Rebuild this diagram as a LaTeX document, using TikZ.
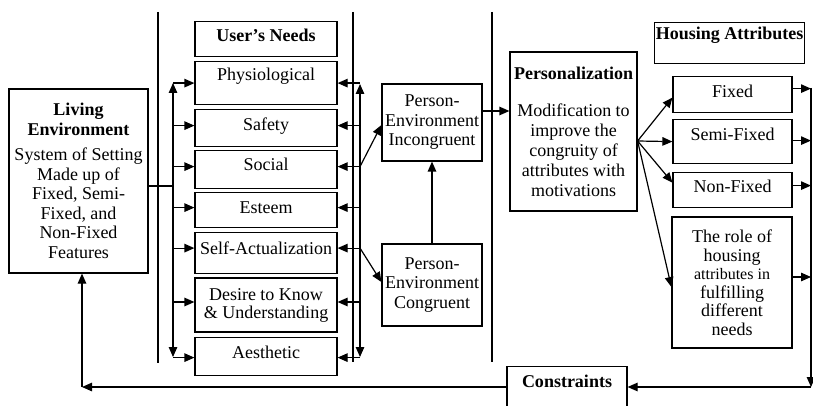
\documentclass[tikz,border=0pt]{standalone}
\usepackage{fontspec}
\setmainfont{Liberation Serif}
\usetikzlibrary{arrows.meta,calc}
\begin{document}
\begin{tikzpicture}[x=1pt,y=-1pt,
  every node/.style={font=\fontsize{18pt}{19.5pt}\selectfont},
  box/.style={draw, line width=1.2pt, inner xsep=1pt, align=center},
  one/.style n args={3}{box, anchor=north, inner ysep=0pt, text height=#1, text depth=#2, minimum width=#3},
  multi/.style n args={2}{box, minimum width=#1, minimum height=#2},
  conn/.style={line width=1.2pt, -{Triangle[length=10pt,width=8.5pt]}},
  biconn/.style={line width=1.2pt, {Triangle[length=10pt,width=8.5pt]}-{Triangle[length=10pt,width=8.5pt]}},
  plain/.style={line width=1.2pt},
  divider/.style={line width=1.3pt}]
\fill[white] (0,0) rectangle (813,406);
\useasboundingbox (0,0) rectangle (813,406);

% dividers
\coordinate (d1t) at (158,12); \coordinate (d1b) at (158,363);
\coordinate (d2t) at (353,12); \coordinate (d2b) at (353,362);
\coordinate (d3t) at (492,12); \coordinate (d3b) at (492,362);
\draw[divider] (d1t) -- (d1b);
\draw[divider] (d2t) -- (d2b);
\draw[divider] (d3t) -- (d3b);

% living environment
\node[multi={139pt}{184pt}] (le) at (78.5,181) {\textbf{Living}\\\textbf{Environment}\\[6pt]System of Setting\\Made up of\\Fixed, Semi-\\Fixed, and\\Non-Fixed\\Features};

% user's needs column
\node[one={20pt}{15pt}{142pt}] (un) at (266,21) {\textbf{User's Needs}};
\node[one={19pt}{24pt}{142pt}] (phy) at (266,61) {Physiological};
\node[one={21pt}{16pt}{142pt}] (saf) at (266,109) {Safety};
\node[one={20pt}{18pt}{142pt}] (soc) at (266,150) {Social};
\node[one={21pt}{14pt}{142pt}] (est) at (266,192) {Esteem};
\node[one={22pt}{19pt}{142pt}] (sel) at (266,232) {Self-Actualization};
\node[multi={142pt}{54pt}, font=\fontsize{18pt}{18pt}\selectfont] (des) at (266,305) {Desire to Know\\\& Understanding};
\node[one={21pt}{17pt}{142pt}] (aes) at (266,337) {Aesthetic};

% person-environment
\node[multi={100pt}{77pt}] (inc) at (432,122.5) {Person-\\Environment\\Incongruent};
\node[multi={100pt}{82pt}] (cong) at (432,285) {Person-\\Environment\\Congruent};

% personalization
\node[multi={127pt}{159pt}, font=\fontsize{18pt}{20pt}\selectfont] (pers) at (573.5,131.5) {\textbf{Personalization}\\[17pt]Modification to\\improve the\\congruity of\\attributes with\\motivations};

% housing attributes
\node[one={17pt}{24pt}{149pt}] (ha) at (729.5,22) {\textbf{Housing Attributes}};
\node[one={21pt}{15pt}{119pt}] (fix) at (732.5,76) {Fixed};
\node[one={21pt}{23pt}{119pt}] (semi) at (732.5,119) {Semi-Fixed};
\node[one={20pt}{15pt}{119pt}] (non) at (732.5,172) {Non-Fixed};
\node[multi={120pt}{131pt}, font=\fontsize{18pt}{18.5pt}\selectfont] (role) at (732,282.5) {The role of\\housing\\{\fontsize{16pt}{18.5pt}\selectfont attributes in}\\fulfilling\\different\\needs};

% constraints
\node[one={21pt}{33pt}{120pt}] (cons) at (567,366) {\textbf{Constraints}};

% left bus
\coordinate (bLt) at (173,83); \coordinate (bLb) at (173,357);
\draw[biconn] (bLt) -- (bLb);
\coordinate (leout) at ([yshift=-5pt]le.east);
\draw[plain] (leout) -- (leout -| bLt);

% right bus
\coordinate (bRt) at (360,84); \coordinate (bRb) at (360,357);
\draw[biconn] (bRt) -- (bRb);

\foreach \n/\s in {phy/0,saf/2.5,soc/3,est/2.5,sel/5,des/3,aes/-1}{
  \coordinate (\n L) at ([yshift=\s pt]\n.west);
  \coordinate (\n R) at ([yshift=\s pt]\n.east);
  \draw[conn] (\n L -| bLt) -- (\n L);
  \draw[conn] (\n R -| bRt) -- (\n R);
}

% to person-environment boxes
\coordinate (incin) at ([yshift=-2.5pt]inc.west);
\coordinate (congin) at ([yshift=3pt]cong.west);
\draw[conn] (socR -| bRt) -- (incin);
\draw[conn] (selR -| bRt) -- (congin);
\draw[conn] (cong.north) -- (inc.south);
\coordinate (incout) at ([yshift=11.5pt]inc.east);
\draw[conn] (incout) -- (incout -| pers.west);

% personalization to housing attributes
\coordinate (po) at ([yshift=-9.5pt]pers.east);
\draw[conn] (po) -- ([yshift=-3pt]fix.west);
\draw[conn] (po) -- (semi.west);
\draw[conn] (po) -- ([yshift=7.5pt]non.west);
\draw[conn] (po) -- ([yshift=-4.5pt]role.west);

% housing bus
\coordinate (hbt) at (811,88); \coordinate (hbb) at (811,387);
\coordinate (fixR) at ([yshift=6pt]fix.east);
\coordinate (semiR) at ([yshift=1pt]semi.east);
\coordinate (nonR) at ([yshift=4.5pt]non.east);
\coordinate (roleR) at ([yshift=5.5pt]role.east);
\draw[conn] (fixR) -- (fixR -| hbt);
\draw[conn] (semiR) -- (semiR -| hbt);
\draw[conn] (nonR) -- (nonR -| hbt);
\draw[conn] (roleR) -- (roleR -| hbt);
\draw[conn] (hbt) -- (hbb);
\draw[conn] (hbb) -- (hbb -| cons.east);

% feedback to living environment
\coordinate (corner) at (82,387);
\draw[conn] (hbb -| cons.west) -- (corner);
\draw[conn] (corner) -- (corner |- le.south);
\end{tikzpicture}
\end{document}
